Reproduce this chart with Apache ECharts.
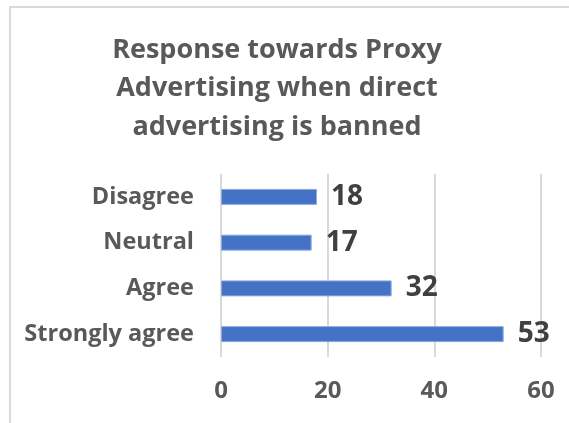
<!DOCTYPE html>
<html>
<head>
<meta charset="utf-8">
<script src="https://cdn.jsdelivr.net/npm/echarts@6/dist/echarts.min.js"></script>
<style>
  html, body { margin: 0; padding: 0; background: #fff; }
  #chart { width: 569px; height: 423px; }
</style>
</head>
<body>
<div id="chart"></div>
<script>
// Survey responses, listed bottom-to-top as the category axis draws them
const categories = ['Strongly agree', 'Agree', 'Neutral', 'Disagree'];
const responses = [53, 32, 17, 18];
const xTicks = [0, 20, 40, 60];

const chart = echarts.init(document.getElementById('chart'), null, { renderer: 'canvas' });
const font = '"Open Sans", "Noto Sans", sans-serif';

chart.setOption({
  backgroundColor: '#ffffff',
  animation: false,
  title: {
    text: 'Response towards Proxy\nAdvertising when direct\nadvertising is banned',
    left: 272,
    top: 26,
    textAlign: 'center',
    textStyle: {
      fontFamily: font,
      fontWeight: 'bold',
      fontSize: 27,
      lineHeight: 38.5,
      color: '#595959'
    }
  },
  graphic: [
    { type: 'line', shape: { x1: 9, y1: 7, x2: 569, y2: 7 }, style: { stroke: '#d9d9d9', lineWidth: 2 } },
    { type: 'line', shape: { x1: 10, y1: 6, x2: 10, y2: 423 }, style: { stroke: '#d9d9d9', lineWidth: 2 } }
  ],
  grid: { left: 221, right: 28, top: 174, bottom: 66, containLabel: false },
  xAxis: {
    type: 'value',
    min: xTicks[0],
    max: xTicks[xTicks.length - 1],
    interval: xTicks[1] - xTicks[0],
    axisLine: { show: false },
    axisTick: { show: false },
    splitLine: { show: true, lineStyle: { color: '#d9d9d9', width: 2 } },
    axisLabel: {
      margin: 22,
      fontFamily: font,
      fontWeight: 'bold',
      fontSize: 24,
      color: '#595959'
    }
  },
  yAxis: {
    type: 'category',
    data: categories,
    axisLine: { show: false },
    axisTick: { show: false },
    axisLabel: {
      margin: 27,
      fontFamily: font,
      fontWeight: 'bold',
      fontSize: 23.5,
      color: '#595959'
    }
  },
  series: [{
    type: 'bar',
    data: responses,
    barWidth: 16,
    itemStyle: { color: '#4472c4', borderColor: '#8eaadf', borderWidth: 1 },
    label: {
      show: true,
      position: 'right',
      distance: 14,
      fontFamily: font,
      fontWeight: 'bold',
      fontSize: 28,
      color: '#404040'
    }
  }]
});
</script>
</body>
</html>
